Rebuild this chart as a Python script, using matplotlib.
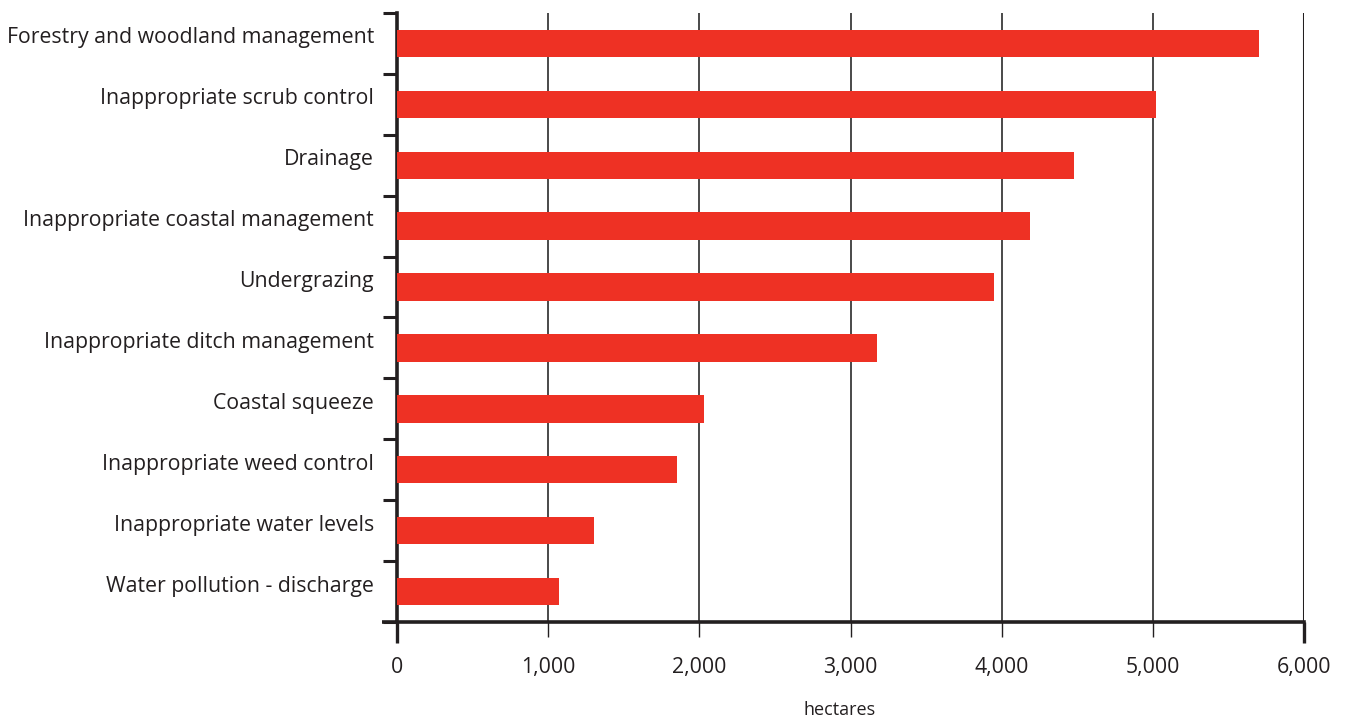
import numpy as np
import matplotlib
matplotlib.use('Agg')
import matplotlib.pyplot as plt
import matplotlib.ticker as plticker

# pressures on the habitat, area affected in hectares
causes = ['Forestry and woodland management',
          'Inappropriate scrub control',
          'Drainage',
          'Inappropriate coastal management',
          'Undergrazing',
          'Inappropriate ditch management',
          'Coastal squeeze',
          'Inappropriate weed control',
          'Inappropriate water levels',
          'Water pollution - discharge']
hectares = [5700, 5020, 4480, 4190, 3950, 3175, 2030, 1850, 1300, 1070]
xticks = [0, 1000, 2000, 3000, 4000, 5000, 6000]

dark = '#231f20'
red = '#ee3124'

plt.rcParams['font.family'] = ['Open Sans', 'DejaVu Sans']

fig = plt.figure(figsize=(13.54, 7.19), dpi=100)
ax = fig.add_axes([397/1354, 1 - 622/719, (1304-397)/1354, (622-13)/719])

ypos = np.arange(len(causes))
ax.barh(ypos, hectares, height=0.45, color=red, zorder=3)

ax.set_xlim(0, 6000)
ax.set_ylim(len(causes) - 0.5, -0.5)

# gridlines
for x in xticks[1:-1]:
    ax.axvline(x, color='#3a3a3a', lw=1.3, zorder=1)
ax.axvline(xticks[-1], color=dark, lw=2.2, zorder=1)

for s in ['top', 'right']:
    ax.spines[s].set_visible(False)
ax.spines['left'].set_linewidth(2.6)
ax.spines['bottom'].set_linewidth(2.6)
ax.spines['left'].set_color(dark)
ax.spines['bottom'].set_color(dark)

# y labels (baseline on bar centre) and boundary ticks
ax.set_yticks(ypos)
ax.set_yticklabels(causes, fontsize=15.3, color=dark)
for lab in ax.get_yticklabels():
    lab.set_va('baseline')
ax.yaxis.set_minor_locator(plticker.FixedLocator(np.arange(-0.5, len(causes), 1.0)))
ax.tick_params(axis='y', which='major', length=0, pad=16.5)
ax.tick_params(axis='y', which='minor', length=10, width=2.2, color=dark, direction='out')

# x ticks
ax.set_xticks(xticks)
ax.xaxis.set_major_formatter(plticker.FuncFormatter(lambda v, p: '{:,.0f}'.format(v)))
ax.tick_params(axis='x', which='major', length=11, width=1, color=dark, pad=14.5,
               labelsize=15.3, labelcolor=dark)
for t in [ax.xaxis.get_major_ticks()[0], ax.xaxis.get_major_ticks()[-1]]:
    t.tick1line.set_markersize(15)
    t.tick1line.set_markeredgewidth(2.4)

# bottom axis line extends left of y axis
ax.plot([-0.016, 0], [0, 0], transform=ax.transAxes, color=dark, lw=2.6, clip_on=False,
        solid_capstyle='butt')

fig.text(840/1354, 1 - 710/719, 'hectares', ha='center', va='center', fontsize=13, color=dark)

plt.savefig('out.png', dpi=100)
